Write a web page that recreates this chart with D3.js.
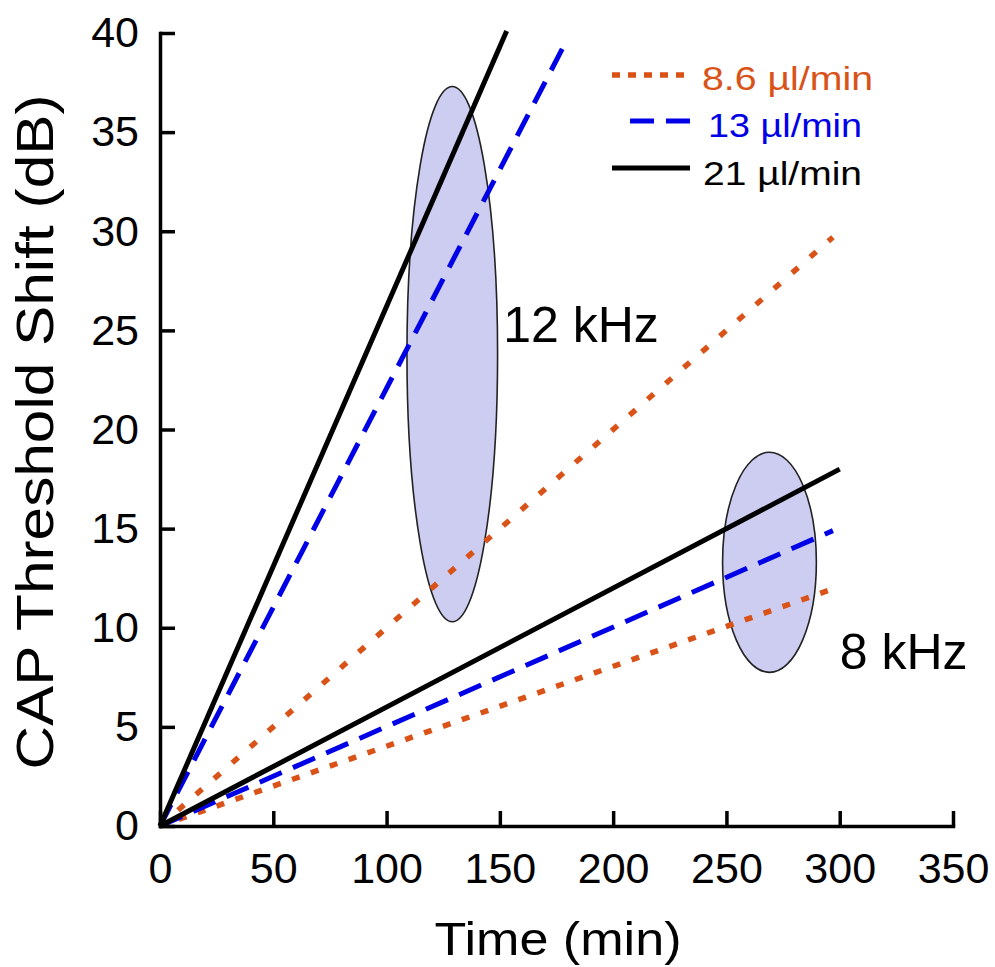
<!DOCTYPE html>
<html>
<head>
<meta charset="utf-8">
<script src="https://cdn.jsdelivr.net/npm/d3@7"></script>
<style>
  html, body { margin: 0; padding: 0; background: #fff; }
  svg { display: block; font-family: "Liberation Sans", Arial, Helvetica, sans-serif; }
</style>
</head>
<body>
<svg id="chart" width="995" height="967"></svg>
<script>
// ---- data ----
const seriesNames = ["8.6 µl/min", "13 µl/min", "21 µl/min"];
// 12 kHz lines: from origin to end point (time, dB)
const time12End = [297, 178, 153];
const shift12End = [29.7, 39.3, 40.1];
// 8 kHz lines
const time8End = [298, 297, 300];
const shift8End = [12.0, 14.9, 18.0];
// frequency regions (ellipses), data units
const regionLabels = ["12 kHz", "8 kHz"];
const regionCenterTime = [129, 269];
const regionCenterShift = [23.8, 13.3];
const regionHalfTime = [20, 20.7];
const regionHalfShift = [13.5, 5.55];
const regionLabelTime = [151.5, 300];
const regionLabelShift = [24.4, 7.9];
// axes
const xTicks = [0, 50, 100, 150, 200, 250, 300, 350];
const yTicks = [0, 5, 10, 15, 20, 25, 30, 35, 40];
const xTitle = "Time (min)";
const yTitle = "CAP Threshold Shift (dB)";

// ---- styles ----
const colors = ["#D95319", "#0000E6", "#000000"];
const widths = [5.5, 5, 5];
const dash12 = ["8,16", "24,13", null];
const dash8 = ["8,12", "24,12.3", null];
const legendDash = ["8,8", "24,12", null];

const svg = d3.select("#chart");
const x = d3.scaleLinear().domain([0, 350]).range([160, 953]);
const y = d3.scaleLinear().domain([0, 40]).range([826, 33]);

// ellipses
const rg = svg.append("g");
regionLabels.forEach((lab, i) => {
  rg.append("ellipse")
    .attr("cx", x(regionCenterTime[i]))
    .attr("cy", y(regionCenterShift[i]))
    .attr("rx", x(regionHalfTime[i]) - x(0))
    .attr("ry", y(0) - y(regionHalfShift[i]))
    .attr("fill", "#CDCDF2")
    .attr("stroke", "#222")
    .attr("stroke-width", 1.6);
});

// lines
const line = d3.line().x(d => x(d[0])).y(d => y(d[1]));
const lg = svg.append("g").attr("fill", "none");
[0, 1, 2].forEach(i => {
  lg.append("path")
    .attr("d", line([[0, 0], [time8End[i], shift8End[i]]]))
    .attr("stroke", colors[i])
    .attr("stroke-width", widths[i])
    .attr("stroke-dasharray", dash8[i]);
  lg.append("path")
    .attr("d", line([[0, 0], [time12End[i], shift12End[i]]]))
    .attr("stroke", colors[i])
    .attr("stroke-width", widths[i])
    .attr("stroke-dasharray", dash12[i]);
});

// region labels
regionLabels.forEach((lab, i) => {
  svg.append("text")
    .attr("x", x(regionLabelTime[i]))
    .attr("y", y(regionLabelShift[i]))
    .attr("font-size", 50)
    .attr("fill", "#000")
    .text(lab);
});

// axes
const xAxis = d3.axisBottom(x).tickValues(xTicks).tickSizeInner(-15).tickSizeOuter(0).tickPadding(26).tickFormat(d3.format("d"));
const yAxis = d3.axisLeft(y).tickValues(yTicks).tickSizeInner(-15).tickSizeOuter(0).tickPadding(21).tickFormat(d3.format("d"));

const gx = svg.append("g").attr("transform", `translate(0,${y(0)})`).call(xAxis);
const gy = svg.append("g").attr("transform", `translate(${x(0)},0)`).call(yAxis);
[gx, gy].forEach(g => {
  g.selectAll("path.domain").attr("stroke", "#000").attr("stroke-width", 3.5).attr("stroke-linecap", "square");
  g.selectAll(".tick line").attr("stroke", "#000").attr("stroke-width", 3.5);
  g.selectAll(".tick text").attr("font-size", 43).attr("fill", "#000")
    .attr("font-family", '"Liberation Sans", Arial, sans-serif');
});

// axis titles
svg.append("text")
  .attr("x", 558).attr("y", 955)
  .attr("text-anchor", "middle")
  .attr("font-size", 47)
  .attr("textLength", 247).attr("lengthAdjust", "spacingAndGlyphs")
  .text(xTitle);
svg.append("text")
  .attr("transform", "translate(53,432) rotate(-90)")
  .attr("text-anchor", "middle")
  .attr("font-size", 52)
  .attr("textLength", 675).attr("lengthAdjust", "spacingAndGlyphs")
  .text(yTitle);

// legend
const legY = [75, 121, 168];
const legX1 = [612, 630, 612];
const legTextX = [702, 708, 703];
const legTextW = [171, 154, 159];
const legTextBase = [90, 137, 185];
const leg = svg.append("g");
seriesNames.forEach((name, i) => {
  leg.append("line")
    .attr("x1", legX1[i]).attr("x2", 690)
    .attr("y1", legY[i]).attr("y2", legY[i])
    .attr("stroke", colors[i]).attr("stroke-width", widths[i])
    .attr("stroke-dasharray", legendDash[i]);
  leg.append("text")
    .attr("x", legTextX[i]).attr("y", legTextBase[i])
    .attr("font-size", 33)
    .attr("fill", colors[i])
    .attr("textLength", legTextW[i]).attr("lengthAdjust", "spacingAndGlyphs")
    .text(name);
});
</script>
</body>
</html>
